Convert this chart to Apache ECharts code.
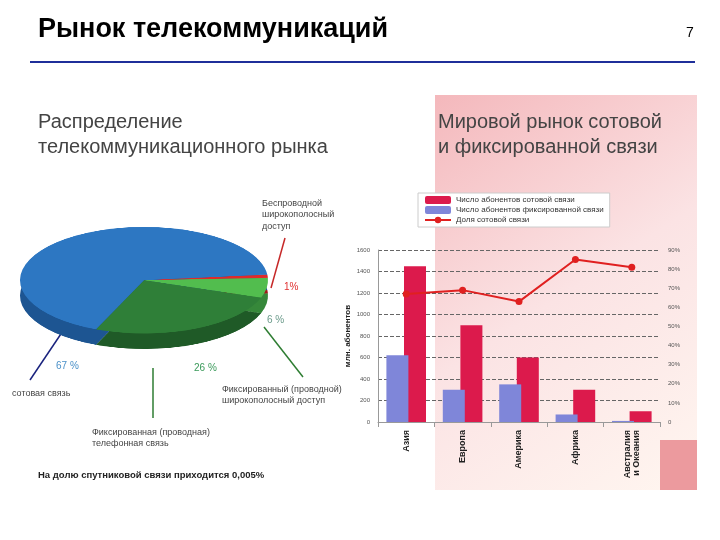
<!DOCTYPE html>
<html lang="ru">
<head>
<meta charset="utf-8">
<title>Рынок телекоммуникаций</title>
<script src="https://cdn.jsdelivr.net/npm/echarts@6/dist/echarts.min.js"></script>
<style>
body{margin:0;background:#fff}
#main{position:absolute;left:0;top:0;width:720px;height:540px}
#pie{position:absolute;left:14px;top:226px;width:260px;height:290px;transform:scaleY(0.43);transform-origin:top left}
</style>
</head>
<body>
<div id="main"></div>
<div id="pie"></div>
<script>
// данные
var regions = ['Азия', 'Европа', 'Америка', 'Африка', 'Австралия\nи Океания'];
var cellSubs = [1450, 900, 600, 300, 100];
var fixedSubs = [620, 300, 350, 70, 10];
var cellShare = [67, 69, 63, 85, 81];
var pieNames = ['Беспроводной широкополосный доступ', 'Фиксированный широкополосный доступ', 'Фиксированная телефонная связь', 'Сотовая связь'];
var pieValues = [1, 6, 26, 67];
var pieColors = ['#e02a2a', '#52bd4e', '#2f7f38', '#2d77c2'];
var pieSide = ['#a01818', '#36883a', '#1f5a27', '#1d5592'];

var main = echarts.init(document.getElementById('main'));
function txt(x, y, s, size, color, weight) {
    return {type: 'text', left: x, top: y, style: {text: s, fontSize: size, fill: color, fontWeight: weight || 'normal', fontFamily: 'Arial', lineHeight: size * 1.25}};
}
function ln(x1, y1, x2, y2, c) {
    return {type: 'line', shape: {x1: x1, y1: y1, x2: x2, y2: y2}, style: {stroke: c, lineWidth: 1.5}};
}
main.setOption({
    graphic: [
        {type: 'rect', shape: {x: 435, y: 95, width: 262, height: 395}, z: -10,
         style: {fill: new echarts.graphic.LinearGradient(0, 0, 1, 1, [{offset: 0, color: '#f4b8bc'}, {offset: 0.5, color: '#fbe3e4'}, {offset: 1, color: '#fff6f0'}])}},
        {type: 'rect', shape: {x: 660, y: 440, width: 37, height: 50}, z: -9, style: {fill: '#ec9a9e'}},
        {type: 'rect', shape: {x: 30, y: 61, width: 665, height: 2}, style: {fill: '#1f2f9a'}},
        txt(38, 13, 'Рынок телекоммуникаций', 27, '#000', 'bold'),
        txt(686, 24, '7', 14, '#000'),
        txt(38, 110, 'Распределение\nтелекоммуникационного рынка', 20, '#444'),
        txt(438, 110, 'Мировой рынок сотовой\nи фиксированной связи', 20, '#444'),
        txt(262, 198, 'Беспроводной\nширокополосный\nдоступ', 9, '#444'),
        txt(12, 388, 'сотовая связь', 9, '#444'),
        txt(222, 384, 'Фиксированный (проводной)\nширокополосный доступ', 9, '#444'),
        txt(92, 427, 'Фиксированная (проводная)\nтелефонная связь', 9, '#444'),
        txt(38, 469, 'На долю спутниковой связи приходится 0,005%', 9.5, '#222', 'bold'),
        txt(56, 360, '67 %', 10, '#4a90c8'),
        txt(194, 362, '26 %', 10, '#3a9a5a'),
        txt(267, 314, '6 %', 10, '#6a9a8a'),
        txt(284, 281, '1%', 10, '#e03030'),
        ln(30, 380, 77, 310, '#1a237e'),
        ln(153, 418, 153, 368, '#2e7d32'),
        ln(303, 377, 264, 327, '#2e7d32'),
        ln(285, 238, 271, 288, '#c62828')
    ],
    legend: {
        left: 418, top: 193, orient: 'vertical', itemGap: 2, itemWidth: 26, itemHeight: 8,
        backgroundColor: '#fff', borderColor: '#ccc', borderWidth: 1, padding: [3, 6],
        textStyle: {fontSize: 8, color: '#333'},
        data: ['Число абонентов сотовой связи', 'Число абонентов фиксированной связи', 'Доля сотовой связи']
    },
    grid: {left: 378, right: 60, top: 250, bottom: 118},
    xAxis: {
        type: 'category', data: regions,
        axisLabel: {rotate: 90, fontSize: 9, fontWeight: 'bold', color: '#222'},
        axisLine: {lineStyle: {color: '#999'}}, axisTick: {show: true}
    },
    yAxis: [{
        type: 'value', min: 0, max: 1600, interval: 200,
        name: 'млн. абонентов', nameLocation: 'middle', nameRotate: 90, nameGap: 26,
        nameTextStyle: {fontSize: 8, fontWeight: 'bold', color: '#222'},
        axisLabel: {fontSize: 6, color: '#555', formatter: function (v) { return String(v); }},
        axisLine: {show: true, lineStyle: {color: '#999'}},
        splitLine: {lineStyle: {type: 'dashed', color: '#666'}}
    }, {
        type: 'value', min: 0, max: 90, interval: 10,
        axisLabel: {fontSize: 6, color: '#555', formatter: function (v) { return v === 0 ? '0' : v + '%'; }},
        splitLine: {show: false}
    }],
    series: [{
        name: 'Число абонентов фиксированной связи', type: 'bar', data: fixedSubs,
        barWidth: 22, barGap: '-20%', itemStyle: {color: '#7f86d9'}, z: 3
    }, {
        name: 'Число абонентов сотовой связи', type: 'bar', data: cellSubs,
        barWidth: 22, itemStyle: {color: '#dc1a4c'}, z: 2
    }, {
        name: 'Доля сотовой связи', type: 'line', yAxisIndex: 1, data: cellShare,
        symbol: 'circle', symbolSize: 7, z: 5,
        lineStyle: {color: '#e02020', width: 2}, itemStyle: {color: '#e02020'}
    }]
});

var pie = echarts.init(document.getElementById('pie'));
var common = {type: 'pie', radius: 124, startAngle: 6, clockwise: true, label: {show: false}, labelLine: {show: false}, silent: true};
pie.setOption({
    series: [
        Object.assign({}, common, {center: [130, 162], data: pieValues.map(function (v, i) { return {name: pieNames[i], value: v, itemStyle: {color: pieSide[i]}}; })}),
        Object.assign({}, common, {center: [130, 126], data: pieValues.map(function (v, i) { return {name: pieNames[i], value: v, itemStyle: {color: pieColors[i]}}; })})
    ]
});
</script>
</body>
</html>
